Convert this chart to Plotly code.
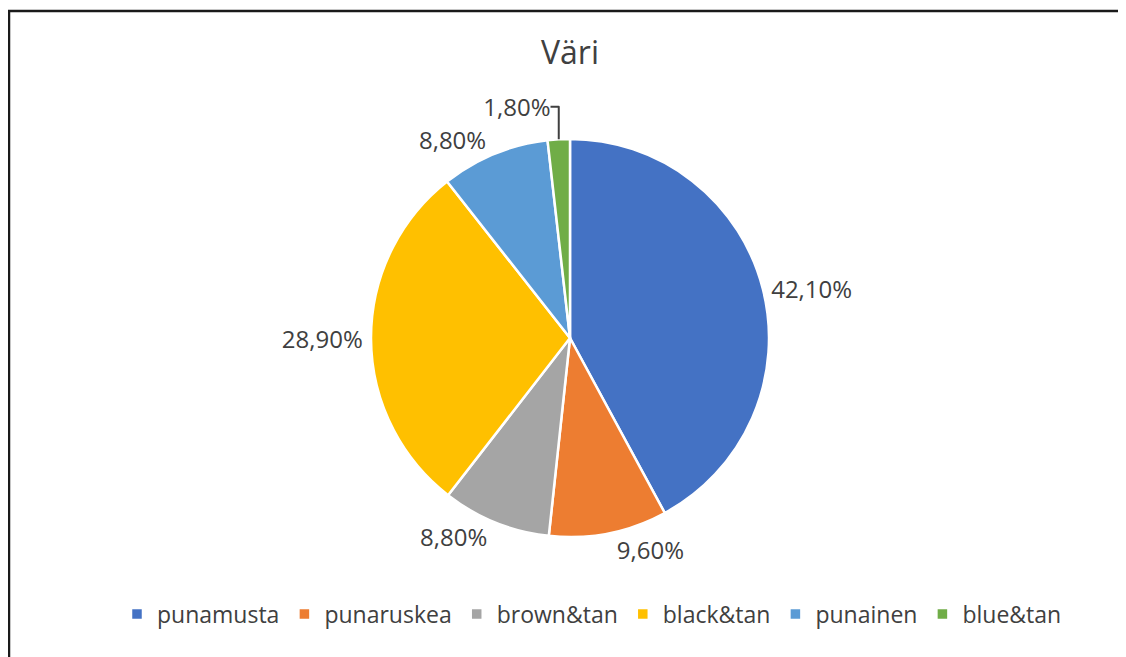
import plotly.graph_objects as go

# Väri (colour) distribution, percent
categories = ["punamusta", "punaruskea", "brown&tan", "black&tan", "punainen", "blue&tan"]
shares = [42.1, 9.6, 8.8, 28.9, 8.8, 1.8]
colors = ["#4472C4", "#ED7D31", "#A5A5A5", "#FFC000", "#5B9BD5", "#70AD47"]

# page body adds an 8px margin, so the figure is 8px smaller than the window
W, H = 1118, 649
font_family = "Open Sans, Noto Sans, sans-serif"

fig = go.Figure(go.Pie(
    labels=categories,
    values=shares,
    sort=False,
    direction="clockwise",
    rotation=0,
    marker=dict(colors=colors, line=dict(color="white", width=2.5)),
    textposition="outside",
    texttemplate="%{value:.2f}%",
    textfont=dict(size=24, color="#404040", family=font_family),
    hoverinfo="label+percent",
    automargin=False,
    domain=dict(x=[0.00537, 1.0], y=[1 - 529 / H, 1 - 131 / H]),
))

fig.update_layout(
    width=W,
    height=H,
    autosize=False,
    margin=dict(l=0, r=0, t=0, b=0, pad=0, autoexpand=False),
    paper_bgcolor="white",
    separators=", ",
    font=dict(family=font_family, color="#404040"),
    title=dict(
        text="Väri",
        x=562 / W,
        xanchor="center",
        y=1 - 45 / H,
        yanchor="middle",
        font=dict(size=32, color="#404040", family=font_family),
    ),
    legend=dict(
        orientation="h",
        x=584 / W,
        xanchor="center",
        y=1 - 606 / H,
        yanchor="middle",
        font=dict(size=23, color="#404040", family=font_family),
        itemwidth=30,
    ),
    shapes=[
        dict(type="line", xref="paper", yref="paper",
             x0=0, x1=1, y0=1 - 3 / H, y1=1 - 3 / H,
             line=dict(color="#1a1a1a", width=2.5)),
        dict(type="line", xref="paper", yref="paper",
             x0=1 / W, x1=1 / W, y0=0, y1=1 - 3 / H,
             line=dict(color="#1a1a1a", width=2.5)),
    ],
)

fig.write_html("out.html")
